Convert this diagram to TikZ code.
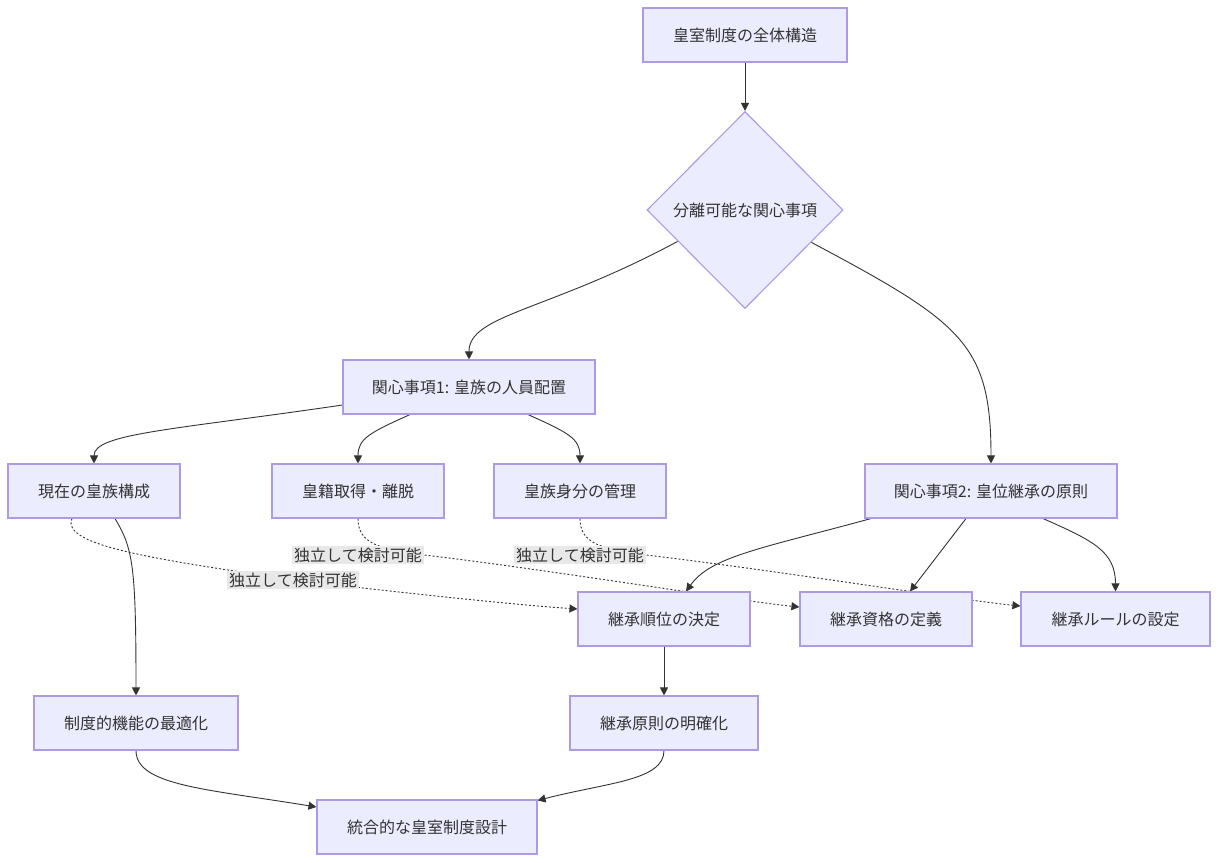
\documentclass[tikz,border=0pt]{standalone}
\usepackage{fontspec}
\newfontfamily\jpfont{Noto Sans CJK JP}
\usepackage{tikz}
\usetikzlibrary{arrows.meta,shapes.geometric,backgrounds}

\definecolor{nodefill}{HTML}{ECECFF}
\definecolor{nodeline}{HTML}{AD99E4}
\definecolor{edgeline}{HTML}{333333}
\definecolor{labelfill}{HTML}{E8E8E8}

\begin{document}
\begin{tikzpicture}[
  x=1pt, y=-1pt,
  font=\jpfont\fontsize{16}{19}\selectfont,
  text=edgeline,
  >={Triangle[length=8pt,width=8pt]},
  box/.style={draw=nodeline, fill=nodefill, line width=1.1pt, minimum height=54pt, inner sep=0pt},
  choice/.style={diamond, aspect=1, draw=nodeline, fill=nodefill, line width=1.1pt, inner sep=0pt, minimum width=196pt, minimum height=197pt},
  flow/.style={->, draw=edgeline, line width=0.9pt},
  indep/.style={flow, dash pattern=on 2pt off 2pt},
  tag/.style={fill=labelfill, inner sep=2pt}
]
\useasboundingbox (0,0) rectangle (1218,862);

\node[box, minimum width=204pt] (whole) at (745,35) {皇室制度の全体構造};
\node[choice] (split) at (745,210) {分離可能な関心事項};

\node[box, minimum width=252pt] (staff) at (469,387) {関心事項1: 皇族の人員配置};
\node[box, minimum width=252pt] (succ) at (991,491) {関心事項2: 皇位継承の原則};

\node[box, minimum width=172pt] (current) at (94,491) {現在の皇族構成};
\node[box, minimum width=172pt] (koseki) at (358,491) {皇籍取得・離脱};
\node[box, minimum width=172pt] (status) at (580,491) {皇族身分の管理};

\node[box, minimum width=172pt] (order) at (664,619) {継承順位の決定};
\node[box, minimum width=172pt] (qualify) at (886,619) {継承資格の定義};
\node[box, minimum width=189pt] (rules) at (1115.5,619) {継承ルールの設定};

\node[box, minimum width=204pt] (optim) at (136,723) {制度的機能の最適化};
\node[box, minimum width=188pt] (clarify) at (664,723) {継承原則の明確化};
\node[box, minimum width=220pt] (design) at (427,827) {統合的な皇室制度設計};

\node[tag] (tagA) at (293,580) {独立して検討可能};
\node[tag] (tagB) at (358,555) {独立して検討可能};
\node[tag] (tagC) at (580,555) {独立して検討可能};

\begin{pgfonlayer}{background}
\draw[flow] (whole) -- (split);
\draw[flow] (split.205) .. controls +(-130,70) and +(0,-45) .. (staff.north);
\draw[flow] (split.-26) .. controls +(150,80) and +(0,-120) .. (succ.north);

\draw[flow] ([yshift=-18pt]staff.west) .. controls +(-170,25) and +(0,-30) .. (current.north);
\draw[flow] ([xshift=-59pt]staff.south) .. controls +(-40,18) and +(0,-25) .. (koseki.north);
\draw[flow] ([xshift=59pt]staff.south) .. controls +(40,18) and +(0,-25) .. (status.north);

\draw[flow] ([xshift=21pt]current.south) .. controls +(18,30) and +(0,-130) .. (optim.north);
\draw[indep] ([xshift=-22pt]current.south) .. controls +(-12,28) and +(-130,-20) .. (tagA.center)
  .. controls +(120,14) and +(-60,-4) .. ([yshift=10pt]order.west);
\draw[indep] (koseki.south) .. controls +(0,25) and +(-45,-6) .. (tagB.east)
  .. controls +(120,14) and +(-60,-6) .. ([yshift=12pt]qualify.west);
\draw[indep] (status.south) .. controls +(0,25) and +(-45,-6) .. (tagC.east)
  .. controls +(120,14) and +(-60,-6) .. ([yshift=13pt]rules.west);

\draw[flow] ([xshift=-120pt]succ.south) .. controls +(-110,30) and +(25,-35) .. ([xshift=22pt]order.north);
\draw[flow] ([xshift=-25pt]succ.south) -- ([xshift=24pt]qualify.north);
\draw[flow] ([xshift=52pt]succ.south) .. controls +(50,22) and +(0,-40) .. (rules.north);

\draw[flow] (order) -- (clarify);
\draw[flow] (optim.south) .. controls +(0,35) and +(-110,-18) .. ([yshift=20pt]design.west);
\draw[flow] (clarify.south) .. controls +(0,30) and +(70,-18) .. ([yshift=-1pt]design.north east);
\end{pgfonlayer}
\end{tikzpicture}
\end{document}
